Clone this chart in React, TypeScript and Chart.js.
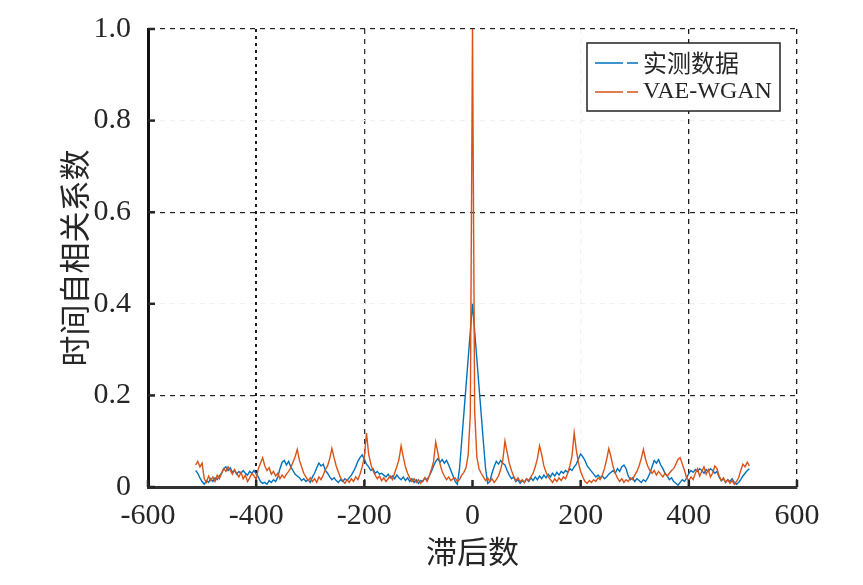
import React, { useEffect, useRef } from "react";
import { Chart, registerables } from "chart.js";
Chart.register(...registerables);

// lag axis: -512 .. 512, every 4th lag
const lags = Array.from({ length: 257 }, (_, i) => -512 + 4 * i);

const seriesNames = ["实测数据", "VAE-WGAN"];

// 实测数据 (blue)
const measured = [
  0.036, 0.030, 0.020, 0.012, 0.006, 0.014, 0.010, 0.018, 0.012, 0.020, 0.016, 0.024, 0.030, 0.040, 0.044, 0.036,
  0.042, 0.032, 0.036, 0.028, 0.034, 0.030, 0.036, 0.030, 0.026, 0.034, 0.030, 0.036, 0.028, 0.022, 0.012, 0.008,
  0.010, 0.006, 0.014, 0.010, 0.016, 0.012, 0.022, 0.040, 0.054, 0.058, 0.048, 0.056, 0.044, 0.036, 0.028, 0.024,
  0.020, 0.014, 0.018, 0.012, 0.016, 0.010, 0.022, 0.030, 0.042, 0.052, 0.046, 0.050, 0.036, 0.030, 0.022, 0.016,
  0.020, 0.014, 0.010, 0.016, 0.012, 0.018, 0.014, 0.020, 0.026, 0.034, 0.044, 0.056, 0.064, 0.070, 0.060, 0.050,
  0.044, 0.036, 0.040, 0.030, 0.034, 0.028, 0.030, 0.026, 0.022, 0.028, 0.020, 0.024, 0.018, 0.026, 0.020, 0.016,
  0.022, 0.014, 0.020, 0.012, 0.018, 0.010, 0.016, 0.008, 0.014, 0.012, 0.020, 0.016, 0.024, 0.034, 0.046, 0.056,
  0.062, 0.054, 0.060, 0.052, 0.058, 0.048, 0.036, 0.024, 0.012, 0.006, 0.040, 0.100, 0.160, 0.220, 0.280, 0.340,
  0.400, 0.340, 0.280, 0.220, 0.160, 0.100, 0.042, 0.008, 0.012, 0.030, 0.044, 0.056, 0.050, 0.058, 0.052, 0.048,
  0.036, 0.026, 0.018, 0.022, 0.012, 0.016, 0.008, 0.014, 0.010, 0.018, 0.012, 0.020, 0.014, 0.022, 0.016, 0.024,
  0.018, 0.026, 0.020, 0.028, 0.022, 0.030, 0.024, 0.032, 0.026, 0.034, 0.030, 0.036, 0.032, 0.040, 0.036, 0.044,
  0.050, 0.062, 0.072, 0.066, 0.058, 0.046, 0.040, 0.034, 0.028, 0.022, 0.026, 0.020, 0.024, 0.018, 0.022, 0.028,
  0.032, 0.036, 0.030, 0.040, 0.034, 0.044, 0.048, 0.040, 0.024, 0.016, 0.020, 0.012, 0.018, 0.014, 0.010, 0.016,
  0.012, 0.020, 0.030, 0.044, 0.058, 0.052, 0.060, 0.048, 0.040, 0.030, 0.024, 0.016, 0.020, 0.012, 0.008, 0.004,
  0.010, 0.016, 0.012, 0.020, 0.030, 0.036, 0.032, 0.038, 0.034, 0.040, 0.036, 0.030, 0.038, 0.034, 0.040, 0.036,
  0.030, 0.034, 0.022, 0.014, 0.018, 0.010, 0.016, 0.012, 0.018, 0.010, 0.006, 0.010, 0.016, 0.024, 0.030, 0.036,
  0.040,
];

// VAE-WGAN (orange)
const generated = [
  0.048, 0.056, 0.044, 0.052, 0.018, 0.010, 0.024, 0.014, 0.022, 0.012, 0.026, 0.018, 0.030, 0.040, 0.034, 0.044,
  0.036, 0.028, 0.038, 0.030, 0.022, 0.032, 0.018, 0.026, 0.012, 0.020, 0.030, 0.024, 0.016, 0.040, 0.052, 0.064,
  0.046, 0.036, 0.042, 0.028, 0.034, 0.024, 0.030, 0.018, 0.026, 0.020, 0.028, 0.034, 0.042, 0.054, 0.066, 0.082,
  0.058, 0.044, 0.030, 0.022, 0.014, 0.020, 0.012, 0.018, 0.010, 0.022, 0.016, 0.026, 0.038, 0.046, 0.062, 0.084,
  0.064, 0.046, 0.032, 0.020, 0.014, 0.008, 0.016, 0.010, 0.018, 0.012, 0.022, 0.016, 0.028, 0.044, 0.066, 0.118,
  0.072, 0.050, 0.036, 0.026, 0.018, 0.024, 0.014, 0.020, 0.012, 0.018, 0.024, 0.016, 0.030, 0.044, 0.060, 0.090,
  0.066, 0.044, 0.030, 0.020, 0.012, 0.018, 0.010, 0.016, 0.008, 0.014, 0.020, 0.012, 0.024, 0.038, 0.056, 0.098,
  0.074, 0.050, 0.034, 0.024, 0.016, 0.022, 0.014, 0.018, 0.020, 0.012, 0.016, 0.026, 0.032, 0.042, 0.070, 0.160,
  1.000, 0.165, 0.066, 0.040, 0.030, 0.022, 0.014, 0.020, 0.012, 0.018, 0.010, 0.016, 0.024, 0.038, 0.058, 0.100,
  0.076, 0.052, 0.036, 0.024, 0.014, 0.020, 0.012, 0.016, 0.010, 0.018, 0.014, 0.022, 0.030, 0.044, 0.062, 0.090,
  0.070, 0.046, 0.032, 0.022, 0.016, 0.010, 0.018, 0.012, 0.020, 0.014, 0.022, 0.018, 0.030, 0.046, 0.068, 0.118,
  0.080, 0.052, 0.034, 0.022, 0.012, 0.008, 0.014, 0.010, 0.016, 0.012, 0.020, 0.016, 0.026, 0.040, 0.060, 0.084,
  0.066, 0.044, 0.030, 0.020, 0.012, 0.018, 0.010, 0.016, 0.012, 0.020, 0.016, 0.026, 0.034, 0.046, 0.062, 0.082,
  0.060, 0.046, 0.036, 0.030, 0.036, 0.026, 0.034, 0.028, 0.022, 0.030, 0.024, 0.030, 0.036, 0.040, 0.050, 0.060,
  0.064, 0.050, 0.036, 0.020, 0.014, 0.022, 0.016, 0.030, 0.040, 0.024, 0.034, 0.044, 0.028, 0.038, 0.022, 0.030,
  0.046, 0.040, 0.024, 0.014, 0.020, 0.010, 0.016, 0.008, 0.014, 0.006, 0.012, 0.020, 0.036, 0.050, 0.044, 0.054,
  0.046,
];

const BLUE = "#0072BD";
const ORANGE = "#D95319";
const SERIF = "'Liberation Serif', 'Noto Sans CJK SC', serif";
const CJK = "'Noto Sans CJK SC', 'Liberation Serif', sans-serif";

const r10 = (v: number) => Math.round(v * 10);

// MATLAB style ticks pointing into the axes
const innerTicks = {
  id: "innerTicks",
  afterDraw(chart: any) {
    const { ctx, chartArea, scales } = chart;
    ctx.save();
    ctx.strokeStyle = "#262626";
    ctx.lineWidth = 2.5;
    scales.x.ticks.forEach((t: any) => {
      const px = scales.x.getPixelForValue(t.value);
      ctx.beginPath();
      ctx.moveTo(px, chartArea.bottom);
      ctx.lineTo(px, chartArea.bottom - 7);
      ctx.stroke();
    });
    scales.y.ticks.forEach((t: any) => {
      const py = scales.y.getPixelForValue(t.value);
      ctx.beginPath();
      ctx.moveTo(chartArea.left, py);
      ctx.lineTo(chartArea.left + 7, py);
      ctx.stroke();
    });
    ctx.restore();
  },
};

const boxLegend = {
  id: "boxLegend",
  afterDraw(chart: any) {
    const { ctx } = chart;
    const colors = [BLUE, ORANGE];
    ctx.save();
    ctx.fillStyle = "#fff";
    ctx.fillRect(587, 43, 193, 68);
    ctx.strokeStyle = "#222";
    ctx.lineWidth = 1.5;
    ctx.strokeRect(587, 43, 193, 68);
    seriesNames.forEach((name, i) => {
      const y = 63 + i * 29;
      ctx.strokeStyle = colors[i];
      ctx.lineWidth = 1.3;
      ctx.beginPath();
      ctx.moveTo(595, y);
      ctx.lineTo(623, y);
      ctx.moveTo(627, y);
      ctx.lineTo(638, y);
      ctx.stroke();
      ctx.fillStyle = "#262626";
      ctx.textBaseline = "middle";
      ctx.font = i === 0 ? `24px ${CJK}` : `24px ${SERIF}`;
      ctx.fillText(name, 643, y);
    });
    ctx.restore();
  },
};

export default function App() {
  const canvasRef = useRef<HTMLCanvasElement | null>(null);

  useEffect(() => {
    if (!canvasRef.current) return;
    const chart = new Chart(canvasRef.current, {
      type: "line",
      data: {
        datasets: [
          {
            label: seriesNames[1],
            data: lags.map((x, i) => ({ x, y: generated[i] })),
            borderColor: ORANGE,
            borderWidth: 1.4,
            pointRadius: 0,
            order: 0,
          },
          {
            label: seriesNames[0],
            data: lags.map((x, i) => ({ x, y: measured[i] })),
            borderColor: BLUE,
            borderWidth: 1.4,
            pointRadius: 0,
            order: 1,
          },
        ],
      },
      options: {
        responsive: false,
        animation: false,
        events: [],
        layout: { padding: { top: 29, right: 66, left: 0, bottom: 0 } },
        plugins: { legend: { display: false }, tooltip: { enabled: false } },
        scales: {
          x: {
            type: "linear",
            min: -600,
            max: 600,
            afterFit: (s: any) => {
              s.height = 98;
            },
            ticks: {
              stepSize: 200,
              autoSkip: false,
              maxRotation: 0,
              padding: 11,
              color: "#262626",
              font: { family: SERIF, size: 30 },
            },
            grid: {
              drawTicks: false,
              color: (c: any) => {
                const v = c.tick?.value;
                if (v === -600) return "rgba(0,0,0,0)";
                if (v === -400 || v === 400 || v === 600) return "#1a1a1a";
                if (v === -200) return "#333";
                return "#f4f1ec";
              },
              lineWidth: (c: any) => (c.tick?.value === -400 ? 2 : 1.3),
            },
            border: {
              display: true,
              color: "#333",
              width: 3,
              dash: (c: any) => (c.tick?.value === -400 ? [3, 4] : [5, 5]),
            },
            title: {
              display: true,
              text: "滞后数",
              color: "#262626",
              font: { family: CJK, size: 31 },
              padding: { top: 0, bottom: 15 },
            },
          },
          y: {
            type: "linear",
            min: 0,
            max: 1,
            afterFit: (s: any) => {
              s.width = 148;
              s.paddingTop = 0;
              s.paddingBottom = 0;
            },
            ticks: {
              stepSize: 0.2,
              padding: 17,
              color: "#262626",
              font: { family: SERIF, size: 30 },
              callback: (v: any) => (Number(v) === 0 ? "0" : Number(v).toFixed(1)),
            },
            grid: {
              drawTicks: false,
              color: (c: any) => {
                const v = r10(c.tick?.value ?? 0);
                if (v === 0) return "rgba(0,0,0,0)";
                if (v === 2 || v === 6 || v === 10) return "#222";
                return "#f4f1ec";
              },
              lineWidth: 1.2,
            },
            border: { display: true, color: "#111", width: 3, dash: [5, 5] },
            title: {
              display: true,
              text: "时间自相关系数",
              color: "#262626",
              font: { family: CJK, size: 31 },
              padding: { top: 56, bottom: 0 },
            },
          },
        },
      },
      plugins: [innerTicks, boxLegend],
    });
    return () => chart.destroy();
  }, []);

  return (
    <div style={{ position: "absolute", left: 0, top: 0, width: 863, height: 585, background: "#fff" }}>
      <canvas ref={canvasRef} width={863} height={585} />
    </div>
  );
}
